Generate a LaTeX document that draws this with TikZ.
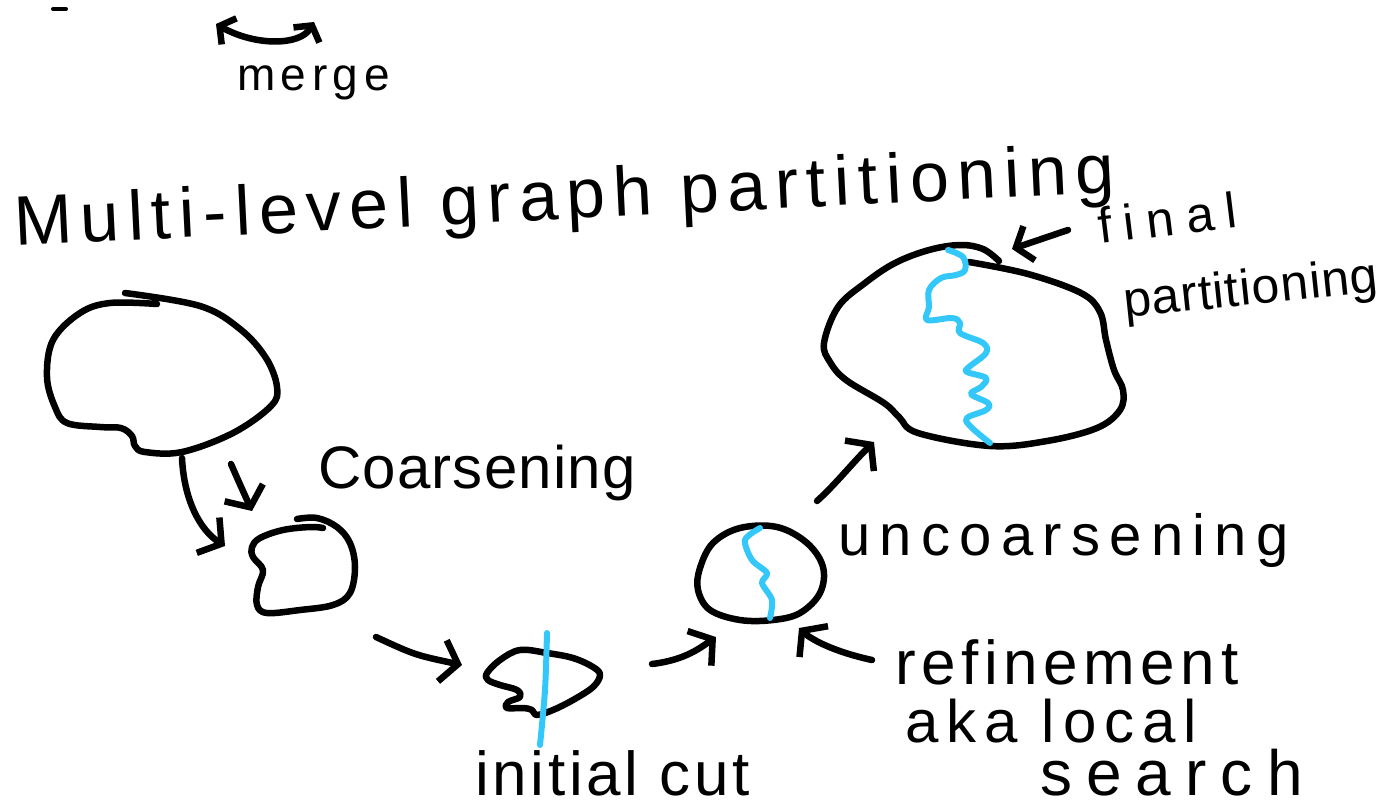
\documentclass[tikz,border=0pt]{standalone}
\usepackage{fontspec}
\setmainfont{Liberation Sans}
\usetikzlibrary{arrows.meta}
\definecolor{cutblue}{RGB}{52,200,250}
\tikzset{
  ink/.style={line width=6.5pt, line cap=round, line join=round},
  cutline/.style={line width=6pt, line cap=round, line join=round, draw=cutblue},
  barb/.style={-{Straight Barb[length=16pt,width=42pt]}},
  harrow/.style={ink, barb},
  lbl/.style={inner sep=0pt, anchor=base west},
}
\newcommand{\hf}[2]{\fontsize{#1}{#1}\selectfont\addfontfeature{LetterSpace=#2}}
\begin{document}
\begin{tikzpicture}[x=1pt,y=-1pt]
\useasboundingbox (0,0) rectangle (1391,808);
% tiny stray mark
\draw[line width=4pt, line cap=round] (53,9) -- (66,9);
% merge arrow
\coordinate (mL) at (216,24);
\coordinate (mR) at (314,22);
\draw[ink, {Straight Barb[length=11pt,width=30pt]}-{Straight Barb[length=11pt,width=30pt]}] (mL) .. controls (255,46) and (300,46) .. (mR);
\node[lbl, font=\hf{46}{12}] (merge) at (237,90) {merge};
% title
\node[lbl, rotate=2.8, font=\hf{70}{12}] (title) at (15,246) {Multi-level graph partitioning};
% blob 1
\draw[ink] plot[smooth, tension=0.6] coordinates {(125,293) (200,306) (240,329) (266,358) (277,387) (271,406) (233,433) (182,452) (145,452) (135,446) (132,436) (121,428) (100,427) (67,423) (55,407) (47,377) (53,340) (80,313) (110,303) (157,304)};
% coarsening arrows
\coordinate (c1s) at (182,458);
\coordinate (c1e) at (225,546);
\draw[harrow] (c1s) .. controls (184,500) and (200,530) .. (c1e);
\coordinate (c2s) at (231,464);
\coordinate (c2e) at (252,511);
\draw[harrow] (c2s) .. controls (238,480) .. (c2e);
\node[lbl, font=\hf{60}{2}] (coarsening) at (318,488) {Coarsening};
% blob 2
\draw[ink] plot[smooth, tension=0.6] coordinates {(297,519) (317,518) (337,527) (350,543) (355,567) (350,593) (333,605) (300,610) (267,613) (257,605) (258,587) (263,570) (253,557) (252,547) (260,538) (283,530) (310,527) (323,528)};
% arrow to blob 3
\coordinate (c3s) at (376,637);
\coordinate (c3e) at (462,665);
\draw[harrow] (c3s) .. controls (415,655) .. (c3e);
% blob 3
\draw[ink] plot[smooth cycle, tension=0.6] coordinates {(487,673) (500,660) (520,650) (547,653) (573,658) (593,667) (600,675) (593,687) (573,700) (553,710) (537,715) (532,710) (523,708) (507,708) (508,702) (520,697) (517,690) (500,685) (488,680)};
\draw[cutline] plot[smooth] coordinates {(547,633) (545,690) (540,745)};
\node[lbl, font=\hf{62}{6}] (initial) at (475,795) {initial cut};
% arrow to blob 4
\coordinate (c4s) at (652,664);
\coordinate (c4e) at (716,637);
\draw[harrow] (c4s) .. controls (685,660) and (700,648) .. (c4e);
% blob 4
\draw[ink] plot[smooth cycle, tension=0.6] coordinates {(700,568) (713,543) (740,528) (777,527) (807,543) (823,567) (820,593) (800,613) (773,620) (740,620) (710,610) (698,590)};
\draw[cutline] plot[smooth] coordinates {(760,528) (745,540) (752,560) (767,573) (762,583) (772,600) (770,618)};
\node[lbl, font=\hf{58}{16}] (uncoarsening) at (838,555) {uncoarsening};
% refinement arrow
\coordinate (rs) at (872,660);
\coordinate (re) at (799,628);
\draw[harrow] (rs) .. controls (835,652) and (812,640) .. (re);
\node[lbl, font=\hf{62}{9}] (refinement) at (895,684) {refinement};
\node[lbl, font=\hf{60}{13}] (aka) at (905,742) {aka local};
\node[lbl, font=\hf{64}{22}] (search) at (1040,795) {search};
% arrow to blob 5
\coordinate (c5s) at (817,501);
\coordinate (c5e) at (874,442);
\draw[harrow] (c5s) .. controls (835,485) and (855,460) .. (c5e);
% blob 5
\draw[ink] plot[smooth, tension=0.6] coordinates {(969,262) (1028,274) (1081,293) (1100,312) (1106,340) (1114,370) (1123,390) (1120,410) (1097,428) (1047,441) (990,446) (918,433) (899,417) (884,403) (846,380) (830,362) (824,343) (838,307) (865,283) (895,263) (929,250) (960,245) (983,249) (999,261)};
\draw[cutline] plot[smooth, tension=0.6] coordinates {(948,250) (963,257) (965,270) (956,275) (941,278) (929,290) (929,307) (927,320) (952,318) (960,323) (960,333) (983,343) (986,353) (969,367) (967,372) (986,378) (981,387) (971,394) (988,403) (986,410) (967,418) (971,427) (990,443)};
% final partitioning
\coordinate (fs) at (1068,230);
\coordinate (fe) at (1012,249);
\draw[ink, {Straight Barb[length=14pt,width=36pt]}-] (fe) -- (fs);
\node[lbl, rotate=7, font=\hf{50}{24}] (final) at (1100,244) {final};
\node[lbl, rotate=6, font=\hf{50}{2}] (partitioning) at (1125,318) {partitioning};
\end{tikzpicture}
\end{document}
